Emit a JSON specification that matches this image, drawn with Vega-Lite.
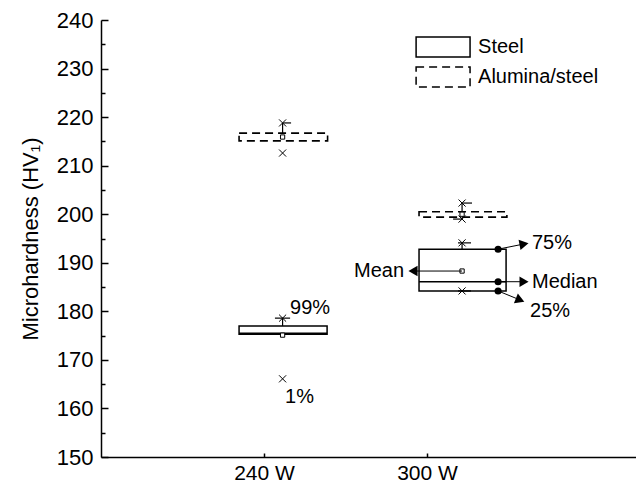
{
  "$schema": "https://vega.github.io/schema/vega-lite/v6.json",
  "width": 535,
  "height": 437,
  "autosize": {"type": "none"},
  "padding": {"left": 101, "top": 20, "right": 0, "bottom": 34},
  "background": "white",
  "config": {
    "font": "Liberation Sans",
    "view": {"stroke": null},
    "axis": {"grid": false, "domainColor": "black", "tickColor": "black", "labelColor": "black", "titleColor": "black", "domainWidth": 1.5, "tickWidth": 1.5, "labelFont": "Liberation Sans", "titleFont": "Liberation Sans", "titleFontWeight": "normal"}
  },
  "datasets": {
    "boxes": [
      {"g": "Steel", "xl": 0.847, "xr": 1.387, "lo": 175.3, "hi": 177.0, "med": 175.5},
      {"g": "Steel", "xl": 1.951, "xr": 2.485, "lo": 184.2, "hi": 192.8, "med": 186.1},
      {"g": "Alumina/steel", "xl": 0.847, "xr": 1.39, "lo": 215.1, "hi": 216.7, "med": 215.9},
      {"g": "Alumina/steel", "xl": 1.951, "xr": 2.49, "lo": 199.4, "hi": 200.5, "med": 199.95}
    ],
    "whiskers": [
      {"x": 1.114, "y": 177.0, "y2": 178.6},
      {"x": 1.114, "y": 216.7, "y2": 218.8},
      {"x": 2.215, "y": 192.8, "y2": 194.1},
      {"x": 2.215, "y": 200.5, "y2": 202.3},
      {"x": 2.215, "y": 199.4, "y2": 199.0}
    ],
    "caps": [
      {"x1": 1.067, "x2": 1.16, "y": 178.6},
      {"x1": 1.117, "x2": 1.166, "y": 218.8},
      {"x1": 2.19, "x2": 2.27, "y": 194.1},
      {"x1": 2.19, "x2": 2.27, "y": 184.2},
      {"x1": 2.221, "x2": 2.276, "y": 202.3},
      {"x1": 2.16, "x2": 2.215, "y": 199.0}
    ],
    "crosses": [
      {"x": 1.114, "y": 178.6},
      {"x": 1.114, "y": 166.1},
      {"x": 1.114, "y": 218.8},
      {"x": 1.114, "y": 212.6},
      {"x": 2.215, "y": 194.1},
      {"x": 2.215, "y": 184.2},
      {"x": 2.215, "y": 202.3},
      {"x": 2.215, "y": 199.0}
    ],
    "means": [
      {"x": 1.114, "y": 175.1},
      {"x": 2.215, "y": 188.3},
      {"x": 1.114, "y": 215.9},
      {"x": 2.215, "y": 200.0}
    ],
    "dots": [
      {"x": 2.436, "y": 192.8},
      {"x": 2.436, "y": 186.1},
      {"x": 2.436, "y": 184.2}
    ],
    "arrows": [
      {"x": 2.436, "y": 192.8, "x2": 2.595, "y2": 193.87, "a": -10.6},
      {"x": 2.436, "y": 186.1, "x2": 2.595, "y2": 186.1, "a": 0},
      {"x": 2.436, "y": 184.2, "x2": 2.571, "y2": 182.34, "a": 22},
      {"x": 2.215, "y": 188.3, "x2": 1.914, "y2": 188.3, "a": 180}
    ],
    "labelsL": [
      {"t": "75%", "x": 2.644, "y": 194.1},
      {"t": "Median", "x": 2.644, "y": 186.1},
      {"t": "25%", "x": 2.632, "y": 180.1},
      {"t": "99%", "x": 1.16, "y": 180.7},
      {"t": "1%", "x": 1.129, "y": 162.4}
    ],
    "labelsR": [
      {"t": "Mean", "x": 1.859, "y": 188.3}
    ],
    "legend": [
      {"g": "Steel", "x1": 1.933, "x2": 2.264, "y1": 236.5, "y2": 232.4, "ty": 234.45, "tx": 2.313},
      {"g": "Alumina/steel", "x1": 1.933, "x2": 2.264, "y1": 230.3, "y2": 226.2, "ty": 228.25, "tx": 2.313}
    ],
    "minor": [{"v": 155}]
  },
  "resolve": {"axis": {"y": "independent"}},
  "layer": [
    {
      "data": {"name": "boxes"},
      "transform": [{"filter": "datum.g == 'Steel'"}],
      "mark": {"type": "rect", "fill": "white", "stroke": "black", "strokeWidth": 1.5},
      "encoding": {
        "x": {"field": "xl", "type": "quantitative", "scale": {"domain": [0, 3.282], "nice": false, "zero": false},
          "axis": {"orient": "bottom", "values": [1, 2], "labelExpr": "datum.value == 1 ? '240 W' : '300 W'", "tickSize": -4, "labelPadding": 9, "labelFontSize": 21, "title": null}},
        "x2": {"field": "xr"},
        "y": {"field": "lo", "type": "quantitative", "scale": {"domain": [150, 240], "nice": false, "zero": false},
          "axis": {"orient": "left", "values": [150, 160, 170, 180, 190, 200, 210, 220, 230, 240], "tickSize": -7, "labelPadding": 15, "labelFontSize": 22, "title": "Microhardness (HV₁)", "titleFontSize": 22, "titlePadding": 14}},
        "y2": {"field": "hi"}
      }
    },
    {
      "data": {"name": "minor"},
      "mark": {"type": "point", "opacity": 0},
      "encoding": {
        "x": {"field": "v", "type": "quantitative"},
        "y": {"field": "v", "type": "quantitative",
          "axis": {"orient": "left", "values": [155, 165, 175, 185, 195, 205, 215, 225, 235], "tickSize": -4, "labels": false, "domain": false, "title": null}}
      }
    },
    {
      "data": {"name": "boxes"},
      "transform": [{"filter": "datum.g != 'Steel'"}],
      "mark": {"type": "rect", "fill": "white", "stroke": "black", "strokeWidth": 1.6, "strokeDash": [8, 5]},
      "encoding": {
        "x": {"field": "xl", "type": "quantitative"},
        "x2": {"field": "xr"},
        "y": {"field": "lo", "type": "quantitative", "axis": null},
        "y2": {"field": "hi"}
      }
    },
    {
      "data": {"name": "boxes"},
      "transform": [{"filter": "datum.g == 'Steel'"}],
      "mark": {"type": "rule", "stroke": "black", "strokeWidth": 1.5},
      "encoding": {
        "x": {"field": "xl", "type": "quantitative"},
        "x2": {"field": "xr"},
        "y": {"field": "med", "type": "quantitative", "axis": null}
      }
    },
    {
      "data": {"name": "whiskers"},
      "mark": {"type": "rule", "stroke": "black", "strokeWidth": 1.2},
      "encoding": {
        "x": {"field": "x", "type": "quantitative"},
        "y": {"field": "y", "type": "quantitative", "axis": null},
        "y2": {"field": "y2"}
      }
    },
    {
      "data": {"name": "caps"},
      "mark": {"type": "rule", "stroke": "black", "strokeWidth": 1.2},
      "encoding": {
        "x": {"field": "x1", "type": "quantitative"},
        "x2": {"field": "x2"},
        "y": {"field": "y", "type": "quantitative", "axis": null}
      }
    },
    {
      "data": {"name": "crosses"},
      "mark": {"type": "point", "shape": "M-1,-1L1,1M-1,1L1,-1", "size": 50, "filled": false, "stroke": "black", "strokeWidth": 1, "opacity": 1},
      "encoding": {
        "x": {"field": "x", "type": "quantitative"},
        "y": {"field": "y", "type": "quantitative", "axis": null}
      }
    },
    {
      "data": {"name": "means"},
      "mark": {"type": "point", "shape": "square", "size": 18, "filled": true, "fill": "white", "stroke": "black", "strokeWidth": 1, "opacity": 1},
      "encoding": {
        "x": {"field": "x", "type": "quantitative"},
        "y": {"field": "y", "type": "quantitative", "axis": null}
      }
    },
    {
      "data": {"name": "arrows"},
      "mark": {"type": "rule", "stroke": "black", "strokeWidth": 1},
      "encoding": {
        "x": {"field": "x", "type": "quantitative"},
        "y": {"field": "y", "type": "quantitative", "axis": null},
        "x2": {"field": "x2"},
        "y2": {"field": "y2"}
      }
    },
    {
      "data": {"name": "arrows"},
      "mark": {"type": "point", "shape": "triangle-right", "size": 110, "filled": true, "fill": "black", "opacity": 1},
      "encoding": {
        "x": {"field": "x2", "type": "quantitative"},
        "y": {"field": "y2", "type": "quantitative", "axis": null},
        "angle": {"field": "a", "type": "quantitative", "scale": null}
      }
    },
    {
      "data": {"name": "dots"},
      "mark": {"type": "point", "shape": "circle", "size": 50, "filled": true, "fill": "black", "opacity": 1},
      "encoding": {
        "x": {"field": "x", "type": "quantitative"},
        "y": {"field": "y", "type": "quantitative", "axis": null}
      }
    },
    {
      "data": {"name": "labelsL"},
      "mark": {"type": "text", "align": "left", "baseline": "middle", "fontSize": 20, "color": "black"},
      "encoding": {
        "x": {"field": "x", "type": "quantitative"},
        "y": {"field": "y", "type": "quantitative", "axis": null},
        "text": {"field": "t"}
      }
    },
    {
      "data": {"name": "labelsR"},
      "mark": {"type": "text", "align": "right", "baseline": "middle", "fontSize": 20, "color": "black"},
      "encoding": {
        "x": {"field": "x", "type": "quantitative"},
        "y": {"field": "y", "type": "quantitative", "axis": null},
        "text": {"field": "t"}
      }
    },
    {
      "data": {"name": "legend"},
      "transform": [{"filter": "datum.g == 'Steel'"}],
      "mark": {"type": "rect", "fill": "white", "stroke": "black", "strokeWidth": 1.5},
      "encoding": {
        "x": {"field": "x1", "type": "quantitative"},
        "x2": {"field": "x2"},
        "y": {"field": "y1", "type": "quantitative", "axis": null},
        "y2": {"field": "y2"}
      }
    },
    {
      "data": {"name": "legend"},
      "transform": [{"filter": "datum.g != 'Steel'"}],
      "mark": {"type": "rect", "fill": "white", "stroke": "black", "strokeWidth": 1.5, "strokeDash": [8, 5]},
      "encoding": {
        "x": {"field": "x1", "type": "quantitative"},
        "x2": {"field": "x2"},
        "y": {"field": "y1", "type": "quantitative", "axis": null},
        "y2": {"field": "y2"}
      }
    },
    {
      "data": {"name": "legend"},
      "mark": {"type": "text", "align": "left", "baseline": "middle", "fontSize": 20, "color": "black"},
      "encoding": {
        "x": {"field": "tx", "type": "quantitative"},
        "y": {"field": "ty", "type": "quantitative", "axis": null},
        "text": {"field": "g"}
      }
    }
  ]
}
